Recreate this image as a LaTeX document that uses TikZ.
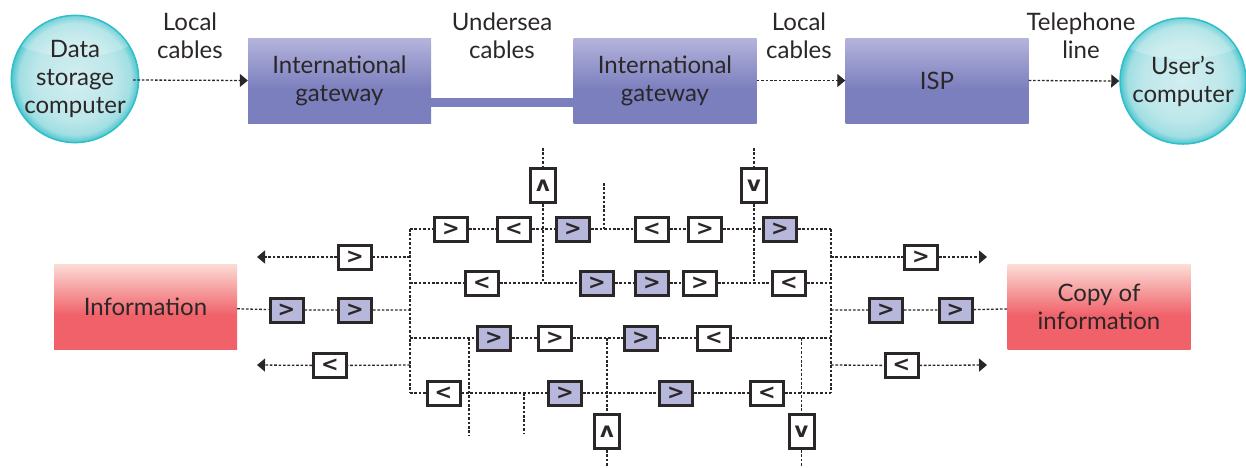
\documentclass[tikz,border=0pt]{standalone}
\usepackage{fontspec}
\setmainfont{Lato}
\newfontfamily\chev{DejaVu Sans}
\usetikzlibrary{arrows.meta}
\definecolor{ink}{HTML}{2B2728}
\definecolor{lav}{HTML}{B7B7DB}
\definecolor{btop}{HTML}{B4B4DC}
\definecolor{bbot}{HTML}{7B7FBD}
\definecolor{rtop}{HTML}{FCDCD6}
\definecolor{rbot}{HTML}{F06169}
\definecolor{cin}{HTML}{D2EEF0}
\definecolor{cmid}{HTML}{BDE7EA}
\definecolor{cout}{HTML}{4EC6CE}
\definecolor{cedge}{HTML}{2EBFC9}
\pgfdeclareverticalshading{gwshade}{100bp}{color(0bp)=(bbot); color(25bp)=(bbot); color(45bp)=(bbot); color(75bp)=(btop); color(100bp)=(btop)}
\pgfdeclareverticalshading{redshade}{100bp}{color(0bp)=(rbot); color(25bp)=(rbot); color(45bp)=(rbot); color(75bp)=(rtop); color(100bp)=(rtop)}
\pgfdeclareradialshading{ballshade}{\pgfpoint{0bp}{0bp}}{color(0bp)=(cin); color(16bp)=(cmid); color(22bp)=(cmid!75!cout); color(25bp)=(cout); color(50bp)=(cout)}
\tikzset{
  txt/.style={text=ink, align=center, inner sep=0pt, font=\fontsize{24}{28}\selectfont},
  gwbox/.style={txt, shading=gwshade, minimum width=183pt, minimum height=85pt},
  redbox/.style={txt, shading=redshade, minimum width=183pt, minimum height=85pt},
  ball/.style={txt, circle, shading=ballshade, draw=cedge, line width=1.5pt, minimum size=126pt,
    path picture={\fill[white, opacity=0.22] ([yshift=66pt]path picture bounding box.center) ellipse (82 and 44);}},
  dotline/.style={draw=ink, line width=1.3pt, dash pattern=on 2.6pt off 1.8pt},
  arr/.style={dotline, -{Triangle[length=8pt,width=13pt]}},
  sb/.style={draw=ink, line width=3pt, minimum width=33pt, minimum height=24pt, inner sep=0pt, fill=white, text=ink, font=\chev\bfseries\fontsize{21}{21}\selectfont},
  pb/.style={sb, fill=lav},
  vb/.style={sb, minimum width=25pt, minimum height=34pt},
}
\begin{document}
\begin{tikzpicture}[x=1pt,y=-1pt]
\useasboundingbox (0,0) rectangle (1246,467);
% top row
\node[ball] (dsc) at (75,79) {Data\\storage\\computer};
\node[ball] (uc) at (1183,81) {User’s\\computer};
\node[txt] (lc1) at (190,36) {Local\\cables};
\node[txt] (us) at (502,36) {Undersea\\cables};
\node[txt] (lc2) at (799,36) {Local\\cables};
\node[txt] (tl) at (1081,36) {Telephone\\line};
\coordinate (ub) at (0,102.5);
\node[gwbox] (gw1) at (339.5,80.5) {International\\gateway};
\node[gwbox] (gw2) at (665,80.5) {International\\gateway};
\node[gwbox] (isp) at (937,80.5) {ISP};
\draw[bbot, line width=9pt] (gw1.east |- ub) -- (gw2.west |- ub);
\coordinate (a1s) at (133,80);
\draw[arr] (a1s) -- (gw1.west);
\draw[arr] (gw2.east) -- (isp.west);
\draw[arr] (isp.east) -- (uc.west);
% info boxes
\node[redbox] (info) at (145.5,306.5) {Information};
\node[redbox] (copy) at (1099,307) {Copy of\\information};
% trunk coordinates
\foreach \n/\y in {1/229,2/257,3/283,4/310,5/338,6/365,7/393}{
  \coordinate (L\n) at (410,\y);
  \coordinate (R\n) at (831,\y);
}
\coordinate (AL2) at (257,257);
\coordinate (AL6) at (257,365);
\coordinate (AR2) at (987,257);
\coordinate (AR6) at (987,365);
% row 229
\node[sb] (r1a) at (451,229) {>};
\node[sb] (r1b) at (514,229) {<};
\node[pb] (r1c) at (573,229) {>};
\node[sb] (r1d) at (652,229) {<};
\node[sb] (r1e) at (705,229) {>};
\node[pb] (r1f) at (780,229) {>};
% row 257
\node[sb] (l2a) at (355,257) {>};
\node[sb] (rr2a) at (921,257) {>};
% row 283
\node[sb] (r3a) at (482,283) {<};
\node[pb] (r3b) at (597,283) {>};
\node[pb] (r3c) at (652,283) {>};
\node[sb] (r3d) at (700,283) {>};
\node[sb] (r3e) at (789,283) {<};
% row 310
\node[pb] (l4a) at (286.5,310) {>};
\node[pb] (l4b) at (355,310) {>};
\node[pb] (rr4a) at (886,310) {>};
\node[pb] (rr4b) at (955.5,310) {>};
% row 338
\node[pb] (r5a) at (494,338) {>};
\node[sb] (r5b) at (555,338) {>};
\node[pb] (r5c) at (641,338) {>};
\node[sb] (r5d) at (714,338) {<};
% row 365
\node[sb] (l6a) at (330,365.5) {<};
\node[sb] (rr6a) at (901.5,365.5) {<};
% row 393
\node[sb] (r7a) at (443.5,393) {<};
\node[pb] (r7b) at (565,393) {>};
\node[pb] (r7c) at (676,393) {>};
\node[sb] (r7d) at (767,393) {<};
% vertical boxes
\node[vb] (up1) at (543,185.5) {ʌ};
\node[vb] (dn1) at (754,185.5) {v};
\node[vb] (up2) at (607,431.5) {ʌ};
\node[vb] (dn2) at (801.5,431.5) {v};
% free ends of verticals
\coordinate (v1t) at (543,148);
\coordinate (v1b) at (543,283);
\coordinate (v2t) at (604,183);
\coordinate (v2b) at (604,229);
\coordinate (v3t) at (754,148);
\coordinate (v3b) at (754,283);
\coordinate (v4t) at (469,338);
\coordinate (v4b) at (469,436);
\coordinate (v5t) at (607,338);
\coordinate (v5b) at (607,467);
\coordinate (v6t) at (524,393);
\coordinate (v6b) at (524,433);
\coordinate (v7t) at (801.5,338);
\coordinate (v7b) at (801.5,467);
% connectors
\draw[dotline] (L1) -- (L7);
\draw[dotline] (R1) -- (R7);
\draw[dotline] (L1) -- (r1a) -- (r1b) -- (r1c) -- (r1d) -- (r1e) -- (r1f) -- (R1);
\draw[arr] (L2) -- (l2a) -- (AL2);
\draw[arr] (R2) -- (rr2a) -- (AR2);
\draw[dotline] (L3) -- (r3a) -- (r3b) -- (r3c) -- (r3d) -- (r3e) -- (R3);
\draw[dotline] (info) -- (l4a) -- (l4b) -- (L4);
\draw[dotline] (R4) -- (rr4a) -- (rr4b) -- (copy);
\draw[dotline] (L5) -- (r5a) -- (r5b) -- (r5c) -- (r5d) -- (R5);
\draw[arr] (L6) -- (l6a) -- (AL6);
\draw[arr] (R6) -- (rr6a) -- (AR6);
\draw[dotline] (L7) -- (r7a) -- (r7b) -- (r7c) -- (r7d) -- (R7);
\draw[dotline] (v1t) -- (up1) -- (v1b);
\draw[dotline] (v2t) -- (v2b);
\draw[dotline] (v3t) -- (dn1) -- (v3b);
\draw[dotline] (v4t) -- (v4b);
\draw[dotline] (v5t) -- (up2) -- (v5b);
\draw[dotline] (v6t) -- (v6b);
\draw[dotline] (v7t) -- (dn2) -- (v7b);
\end{tikzpicture}
\end{document}
